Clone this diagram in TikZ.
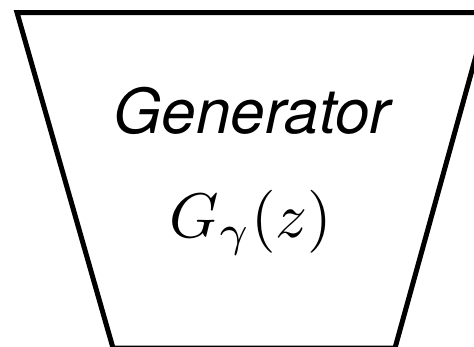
\documentclass[tikz,border=0pt]{standalone}
\usepackage{graphicx}
\usepackage{fontspec}
\setmainfont{TeX Gyre Heros}
\begin{document}
\begin{tikzpicture}[x=1pt,y=-1pt]
\useasboundingbox (0,0) rectangle (474,346);
\clip (0,0) rectangle (474,346);
\tikzset{outline/.style={line width=5pt, line join=miter, draw=black}}
\draw[outline] (17,12.5) -- (488,12.5) -- (395,348) -- (113,348) -- cycle;
\node[font=\fontsize{62}{70}\selectfont\itshape, anchor=base, inner sep=0pt] (title) at (252,133) {Generator};
\node[anchor=base, inner sep=0pt] (func) at (251,237) {\scalebox{6.3}{$G_\gamma(z)$}};
\end{tikzpicture}
\end{document}
